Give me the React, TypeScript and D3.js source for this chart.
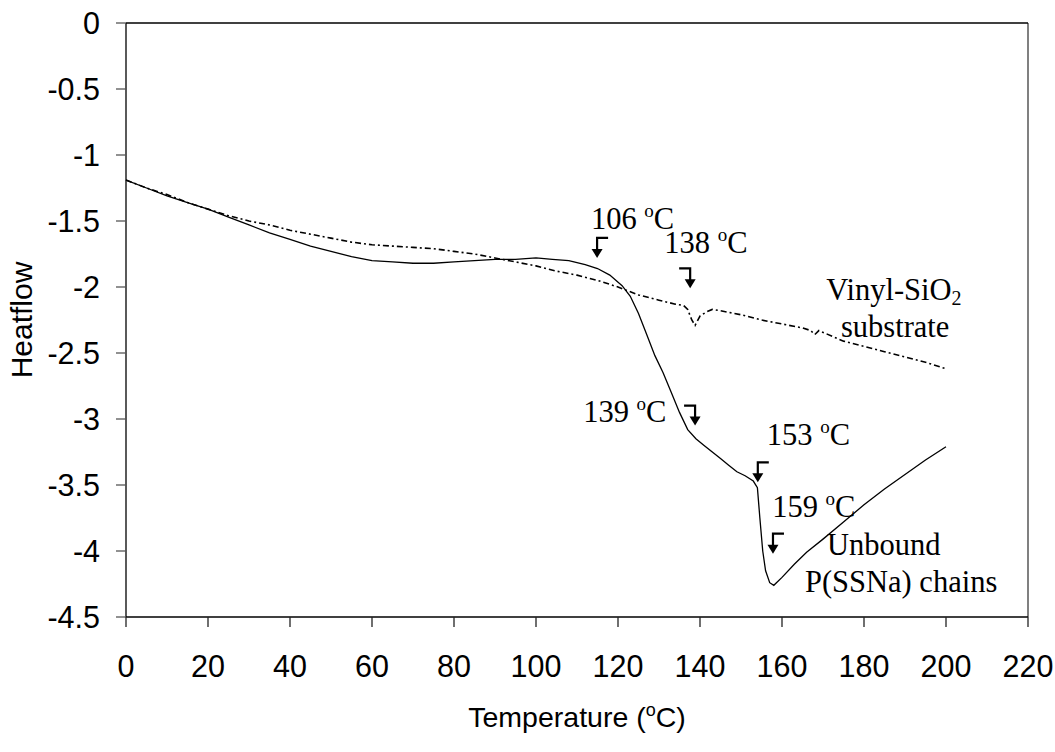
import React from 'react';
import * as d3 from 'd3';

// P(SSNa) grafted sample (solid) and vinyl-SiO2 substrate (dash-dot)
const sampleT = [0, 5, 10, 15, 20, 25, 30, 35, 40, 45, 50, 55, 60, 65, 70, 75, 80, 85, 90, 95, 100, 104, 108, 112, 115, 118, 121, 123, 125, 127, 129, 131, 133, 135, 137, 139, 141, 143, 145, 147, 149, 151, 153, 154, 154.6, 155.3, 156, 157, 158, 160, 163, 166, 170, 175, 180, 185, 190, 195, 200];
const sampleH = [-1.19, -1.25, -1.31, -1.36, -1.41, -1.47, -1.53, -1.59, -1.64, -1.69, -1.73, -1.77, -1.8, -1.81, -1.82, -1.82, -1.81, -1.8, -1.79, -1.79, -1.78, -1.79, -1.8, -1.83, -1.86, -1.91, -1.99, -2.07, -2.2, -2.36, -2.52, -2.65, -2.8, -2.95, -3.08, -3.15, -3.2, -3.25, -3.3, -3.35, -3.4, -3.43, -3.47, -3.52, -3.75, -4.0, -4.15, -4.24, -4.26, -4.2, -4.1, -4.01, -3.91, -3.78, -3.65, -3.53, -3.42, -3.31, -3.21];

const substrateT = [0, 5, 10, 15, 20, 25, 30, 35, 40, 45, 50, 55, 60, 65, 70, 75, 80, 85, 90, 95, 100, 105, 110, 115, 120, 125, 130, 134, 136, 137, 138, 138.8, 140, 141.5, 143, 145, 150, 155, 160, 165, 167, 168, 169, 175, 180, 185, 190, 195, 200];
const substrateH = [-1.19, -1.25, -1.3, -1.36, -1.41, -1.46, -1.5, -1.53, -1.57, -1.6, -1.63, -1.66, -1.68, -1.69, -1.7, -1.71, -1.73, -1.75, -1.78, -1.81, -1.84, -1.88, -1.91, -1.95, -2.0, -2.06, -2.1, -2.13, -2.14, -2.17, -2.25, -2.29, -2.22, -2.19, -2.17, -2.18, -2.21, -2.25, -2.28, -2.31, -2.33, -2.36, -2.33, -2.41, -2.45, -2.49, -2.53, -2.57, -2.62];

const xTicks = [0, 20, 40, 60, 80, 100, 120, 140, 160, 180, 200, 220];
const yTicks = [0, -0.5, -1, -1.5, -2, -2.5, -3, -3.5, -4, -4.5];

// transition markers: arrow tip (t, h), bar direction, label
const arrowT = [114.9, 137.6, 138.8, 154.1, 157.8];
const arrowH = [-1.78, -2.01, -3.05, -3.48, -4.02];
const arrowDir = [1, -1, -1, 1, 1];
const tempLabels = ['106', '138', '139', '153', '159'];
const labelT = [113.4, 131.3, 111.5, 156.3, 157.6];
const labelH = [-1.56, -1.74, -3.02, -3.2, -3.74];

const margin = { top: 23, right: 27, bottom: 135, left: 126 };
const W = 1055;
const H = 752;

export default function App() {
  const innerW = W - margin.left - margin.right;
  const innerH = H - margin.top - margin.bottom;

  const x = d3.scaleLinear().domain([0, 220]).range([margin.left, margin.left + innerW]);
  const y = d3.scaleLinear().domain([-4.5, 0]).range([margin.top + innerH, margin.top]);

  const line = d3.line<[number, number]>()
    .x(d => x(d[0]))
    .y(d => y(d[1]));

  const sample = sampleT.map((t, i) => [t, sampleH[i]] as [number, number]);
  const substrate = substrateT.map((t, i) => [t, substrateH[i]] as [number, number]);

  const sans = 'Arial, "Liberation Sans", sans-serif';
  const serif = '"Times New Roman", "Liberation Serif", serif';
  const x0 = x(0), x1 = x(220), y0 = y(0), y1 = y(-4.5);

  return (
    <svg width={W} height={H} style={{ position: 'absolute', left: 0, top: 0, display: 'block', background: '#fff' }}>
      {/* frame */}
      <line x1={x1} x2={x1} y1={y0} y2={y1} stroke="#808080" strokeWidth={2} />
      <line x1={x0} x2={x1} y1={y0} y2={y0} stroke="#000" strokeWidth={1.3} />
      <line x1={x0} x2={x1} y1={y1} y2={y1} stroke="#000" strokeWidth={1.3} />
      <line x1={x0} x2={x0} y1={y0} y2={y1} stroke="#000" strokeWidth={1.3} />

      {/* y axis */}
      {yTicks.map(v => (
        <g key={'y' + v}>
          <line x1={x0 - 10} x2={x0} y1={y(v)} y2={y(v)} stroke="#555" strokeWidth={1.3} />
          <text x={x0 - 26} y={y(v)} dy="0.36em" textAnchor="end" fontFamily={sans} fontSize={30.5}>{v}</text>
        </g>
      ))}

      {/* x axis */}
      {xTicks.map(v => (
        <g key={'x' + v}>
          <line x1={x(v)} x2={x(v)} y1={y1} y2={y1 + 10} stroke="#222" strokeWidth={1.3} />
          <text x={x(v)} y={y1 + 60} textAnchor="middle" fontFamily={sans} fontSize={30.5}>{v}</text>
        </g>
      ))}

      <text transform={`translate(${x0 - 94},${(y0 + y1) / 2}) rotate(-90)`} textAnchor="middle" fontFamily={sans} fontSize={30}>Heatflow</text>
      <text x={(x0 + x1) / 2} y={727} textAnchor="middle" fontFamily={sans} fontSize={28.5}>
        Temperature (<tspan fontSize={18} dy={-11}>o</tspan><tspan dy={11}>C)</tspan>
      </text>

      {/* curves */}
      <path d={line(substrate) || ''} fill="none" stroke="#000" strokeWidth={1.6} strokeDasharray="6,3,2,3" />
      <path d={line(sample) || ''} fill="none" stroke="#000" strokeWidth={1.3} />

      {/* transition arrows and labels */}
      {arrowT.map((t, i) => {
        const tx = x(t);
        const ty = y(arrowH[i]);
        const top = ty - 20;
        return (
          <g key={'a' + i}>
            <path d={`M${tx + arrowDir[i] * 11},${top}H${tx}V${ty - 6}`} fill="none" stroke="#000" strokeWidth={2.2} />
            <path d={`M${tx - 5.5},${ty - 9}L${tx + 5.5},${ty - 9}L${tx},${ty}Z`} fill="#000" />
          </g>
        );
      })}
      {tempLabels.map((l, i) => (
        <text key={'l' + i} x={x(labelT[i])} y={y(labelH[i])} fontFamily={serif} fontSize={30.5}>
          {l + ' '}<tspan fontSize={19} dy={-12}>o</tspan><tspan dy={12}>C</tspan>
        </text>
      ))}

      <text x={x(187.3)} y={y(-2.1)} textAnchor="middle" fontFamily={serif} fontSize={30.5}>
        Vinyl-SiO<tspan fontSize={20} dy={5}>2</tspan>
      </text>
      <text x={x(187.6)} y={y(-2.38)} textAnchor="middle" fontFamily={serif} fontSize={30.5}>substrate</text>
      <text x={x(171.0)} y={y(-4.03)} fontFamily={serif} fontSize={30.5}>Unbound</text>
      <text x={x(165.6)} y={y(-4.31)} fontFamily={serif} fontSize={30.5}>P(SSNa) chains</text>
    </svg>
  );
}
